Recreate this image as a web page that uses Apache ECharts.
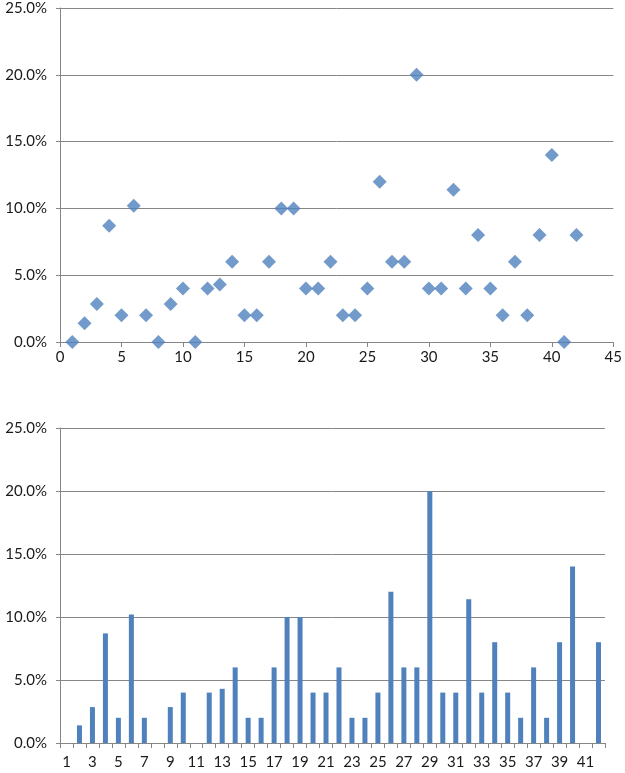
<!DOCTYPE html>
<html><head><meta charset="utf-8">
<script src="https://cdn.jsdelivr.net/npm/echarts@6/dist/echarts.min.js"></script>
<style>html,body{margin:0;padding:0;background:#fff}#c{width:625px;height:773px}</style>
</head><body><div id="c"></div>
<script>
const categories = [1,2,3,4,5,6,7,8,9,10,11,12,13,14,15,16,17,18,19,20,21,22,23,24,25,26,27,28,29,30,31,32,33,34,35,36,37,38,39,40,41,42];
const values = [0,1.4,2.85,8.7,2,10.2,2,0,2.85,4,0,4,4.3,6,2,2,6,10,10,4,4,6,2,2,4,12,6,6,20,4,4,11.4,4,8,4,2,6,2,8,14,0,8];
const yTicks = [0,5,10,15,20,25];

const font = 'Lato, "Open Sans", sans-serif';
const gridColor = '#868686';
const blue = '#4F81BD';
const pct = v => v.toFixed(1) + '%';

const chart = echarts.init(document.getElementById('c'));
const yAxisCommon = {
  type: 'value', min: yTicks[0], max: yTicks[yTicks.length-1], interval: 5,
  axisLine: {show: true, lineStyle: {color: gridColor}},
  axisTick: {show: true, length: 4, lineStyle: {color: gridColor}},
  splitLine: {show: true, lineStyle: {color: gridColor, width: 1}},
  axisLabel: {formatter: pct, color: '#1a1a1a', fontFamily: font, fontSize: 15, margin: 13}
};
chart.setOption({
  animation: false,
  grid: [
    {left: 60, top: 8, width: 555, height: 334},
    {left: 60, top: 428, width: 545, height: 315}
  ],
  xAxis: [
    {gridIndex: 0, type: 'value', min: 0, max: 45, interval: 5,
     axisLine: {show: true, onZero: false, lineStyle: {color: gridColor}},
     axisTick: {show: true, length: 5, lineStyle: {color: gridColor}},
     splitLine: {show: false},
     axisLabel: {color: '#1a1a1a', fontFamily: font, fontSize: 15, margin: 8}},
    {gridIndex: 1, type: 'category', data: categories, boundaryGap: true,
     axisLine: {show: true, lineStyle: {color: gridColor}},
     axisTick: {show: true, length: 5, interval: 0, lineStyle: {color: gridColor}},
     axisLabel: {interval: 1, color: '#1a1a1a', fontFamily: font, fontSize: 15, margin: 12}}
  ],
  yAxis: [
    Object.assign({gridIndex: 0}, yAxisCommon),
    Object.assign({gridIndex: 1}, yAxisCommon)
  ],
  series: [
    {type: 'scatter', xAxisIndex: 0, yAxisIndex: 0,
     data: categories.map((c, i) => [c, values[i]]),
     symbol: 'diamond', symbolSize: 14, itemStyle: {color: blue}},
    {type: 'bar', xAxisIndex: 1, yAxisIndex: 1, data: values,
     barWidth: 5, itemStyle: {color: blue}}
  ]
});
</script></body></html>
